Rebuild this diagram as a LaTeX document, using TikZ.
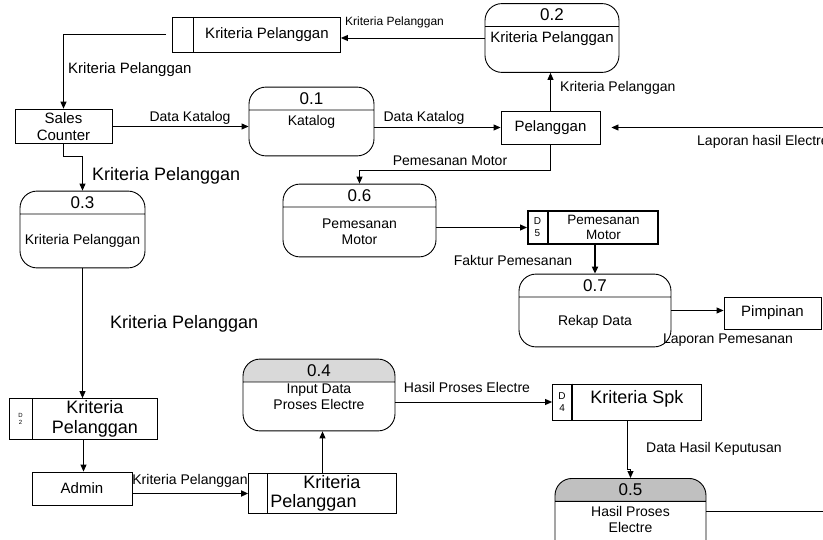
\documentclass[tikz,border=0pt]{standalone}
\usepackage{fontspec}
\setmainfont{Liberation Sans}
\usetikzlibrary{positioning,shapes.multipart,arrows.meta}
\definecolor{shadeA}{RGB}{217,217,217}
\definecolor{shadeB}{RGB}{192,192,192}
\newcommand{\pnum}[1]{{\fontsize{17}{18}\selectfont #1}}
% body of a process: height, width, text
\newcommand{\pbody}[4][c]{\parbox[c][#2pt][#1]{#3pt}{\centering #4}}

\begin{document}
\begin{tikzpicture}[x=1pt, y=-1pt,
    proc/.style={rectangle split, rectangle split parts=2, draw, line width=0.9pt, rounded corners=17pt, align=center, inner xsep=2pt, inner ysep=5pt, font=\fontsize{14}{16}\selectfont},
    store/.style={rectangle split, rectangle split horizontal, rectangle split parts=2, draw, line width=0.9pt, inner xsep=3pt, inner ysep=2pt, font=\fontsize{15}{17}\selectfont},
    ent/.style={rectangle, draw, line width=0.9pt, align=center, font=\fontsize{15}{17}\selectfont},
    flow/.style={-{Triangle[length=7pt,width=6pt]}, line width=0.9pt},
    lbl/.style={inner sep=0pt, font=\fontsize{14}{16}\selectfont},
    lblS/.style={inner sep=0pt, font=\fontsize{12}{14}\selectfont},
    lblL/.style={inner sep=0pt, font=\fontsize{18}{20}\selectfont}
  ]
    \clip (0,0) rectangle (823,540);

    % processes
    \node[proc, minimum width=125] at (311.5,121.5) (p01) {\pnum{0.1}\nodepart{two}\pbody[t]{35}{119}{Katalog}};
    \node[proc, minimum width=134, font=\fontsize{15}{17}\selectfont] at (552,38) (p02) {\pnum{0.2}\nodepart{two}\pbody[t]{35}{130}{Kriteria Pelanggan}};
    \node[proc, minimum width=125] at (82.5,229.5) (p03) {\pnum{0.3}\nodepart{two}\pbody{43}{121}{Kriteria Pelanggan}};
    \node[proc, minimum width=152, rectangle split part fill={shadeA,white}] at (319,395) (p04) {\pnum{0.4}\nodepart{two}\pbody[t]{38}{140}{\vspace*{-4pt}Input Data\\Proses Electre}};
    \node[proc, minimum width=151, rectangle split part fill={shadeB,white}, anchor=north] at (630.5,478) (p05) {\pnum{0.5}\nodepart{two}\pbody[t]{45}{140}{Hasil Proses\\Electre}};
    \node[proc, minimum width=153] at (359.5,220.5) (p06) {\pnum{0.6}\nodepart{two}\pbody{39}{140}{Pemesanan\\Motor}};
    \node[proc, minimum width=152] at (595,310.5) (p07) {\pnum{0.7}\nodepart{two}\pbody{39}{140}{Rekap Data}};

    % data stores
    \node[store, minimum height=35] at (256.5,34.5) (st1) {\parbox{14pt}{\strut}\nodepart{two}\parbox{141pt}{\centering Kriteria Pelanggan}};
    \node[store, minimum height=36, font=\fontsize{18}{20}\selectfont] at (83.5,419) (d2) {\parbox{16pt}{\centering\fontsize{6}{7}\selectfont D\\2}\nodepart{two}\parbox{119pt}{\centering Kriteria\\Pelanggan}};
    \node[store, minimum height=36, font=\fontsize{18}{20}\selectfont] at (627,402) (d4) {\parbox{13pt}{\centering\fontsize{10}{12}\selectfont D\\4}\nodepart{two}\parbox{123pt}{\centering Kriteria Spk\\[6pt]}};
    \node[store, minimum height=33, line width=2pt, font=\fontsize{13.5}{15}\selectfont] at (593,227.5) (d5) {\parbox{13pt}{\centering\fontsize{10}{12}\selectfont D\\5}\nodepart{two}\parbox{103pt}{\centering Pemesanan\\Motor}};
    \node[store, minimum height=37, font=\fontsize{18}{19}\selectfont] at (322.5,493.5) (st2) {\parbox{12pt}{\strut}\nodepart{two}\parbox{123pt}{\makebox[\linewidth]{Kriteria}\\Pelanggan}};
    \draw[line width=2pt] (d4.one split north) -- (d4.one split south);

    % entities
    \node[ent, minimum width=97, minimum height=33] at (63.5,126.5) (sales) {Sales\\Counter};
    \node[ent, minimum width=99, minimum height=33] at (550.5,127.5) (pel) {Pelanggan};
    \node[ent, minimum width=97, minimum height=32] at (772.5,313) (pimp) {Pimpinan};
    \node[ent, minimum width=100, minimum height=33] at (82,488.5) (admin) {Admin};

    % free ends at the edge
    \coordinate (lapR) at (823,127.5);
    \coordinate (hpR) at (823,511);

    % flows
    \draw[flow] (p02.west) -- (p02.west -| st1.east);
    \draw[flow] ([xshift=-6pt]st1.west) -| (sales.north);
    \draw[flow] (sales.east) -- (sales.east -| p01.west);
    \draw[flow] (pel.west -| p01.east) -- (pel.west);
    \draw[flow] (pel.north) -- (pel.north |- p02.south);
    \draw[flow] (lapR) -- ([xshift=11pt]pel.east);
    \draw[flow] (pel.south) -- ++(0,26) -| (p06.north);
    \draw[flow] (sales.south) -- ++(0,12) -| (p03.north);
    \draw[flow] (p03.south) -- (p03.south |- d2.north);
    \draw[flow] (d5.west -| p06.east) -- (d5.west);
    \draw[flow, line width=2pt] (d5.south -| p07.north) -- (p07.north);
    \draw[flow] (p07.east) -- (p07.east -| pimp.west);
    \draw[flow] (d2.south) -- (d2.south |- admin.north);
    \draw[flow, line width=1.8pt] (admin.east |- st2.west) -- (st2.west);
    \draw[flow] (st2.north) -- (st2.north |- p04.south);
    \draw[flow] (d4.west -| p04.east) -- (d4.west);
    \draw[flow] (d4.south) -- ++(0,49) -| (p05.north);
    \draw[line width=0.9pt] (p05.east |- hpR) -- (hpR);

    % flow labels
    \node[lblS, anchor=west] at (345,22) (l1) {Kriteria Pelanggan};
    \node[lbl, anchor=west, font=\fontsize{15}{17}\selectfont] at (68,70) (l2) {Kriteria Pelanggan};
    \node[lbl] at (190,118) (l3) {Data Katalog};
    \node[lbl] at (424,118) (l4) {Data Katalog};
    \node[lbl, anchor=west] at (560,88) (l5) {Kriteria Pelanggan};
    \node[lbl, anchor=west] at (697,142) (l6) {Laporan hasil Electre};
    \node[lbl] at (450,161) (l7) {Pemesanan Motor};
    \node[lblL, anchor=west] at (92,176) (l8) {Kriteria Pelanggan};
    \node[lblL, anchor=west] at (110,324) (l9) {Kriteria Pelanggan};
    \node[lbl] at (513,260) (l10) {Faktur Pemesanan};
    \node[lbl] at (728,340) (l11) {Laporan Pemesanan};
    \node[lbl] at (190,481) (l12) {Kriteria Pelanggan};
    \node[lbl] at (467,387) (l13) {Hasil Proses Electre};
    \node[lbl, anchor=west] at (646,449) (l14) {Data Hasil Keputusan};
  \end{tikzpicture}
\end{document}
